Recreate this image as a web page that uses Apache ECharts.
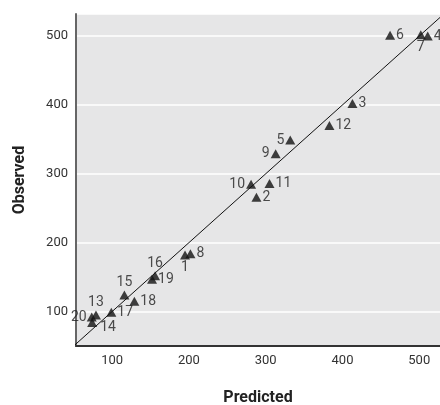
<!DOCTYPE html>
<html>
<head>
<meta charset="utf-8">
<script src="https://cdn.jsdelivr.net/npm/echarts@6/dist/echarts.min.js"></script>
<style>
html,body{margin:0;padding:0;background:#fff;}
#c{width:440px;height:405px;}
</style>
</head>
<body>
<div id="c"></div>
<script>
// Data
const siteIds   = ['1','2','3','4','5','6','7','8','9','10','11','12','13','14','15','16','17','18','19','20'];
const predicted = [195, 288, 413, 511, 332, 462, 502, 202, 313, 281, 305, 383, 79, 74, 116, 156, 99, 129, 152, 73.5];
const observed  = [182, 266, 402, 500, 349, 501, 502, 184, 329, 285, 286, 370, 95, 84, 124, 152, 99, 115, 147, 92];
const xTicks = [100, 200, 300, 400, 500];
const yTicks = [100, 200, 300, 400, 500];
const identityEnds = [0, 600];

// label placement (style)
const labelPlace = {
  '1': {position: 'bottom', distance: 1},
  '7': {position: 'bottom', distance: 1},
  '13': {position: 'top', distance: 1},
  '15': {position: 'top', distance: 1},
  '16': {position: 'top', distance: 1},
  '5': {position: 'left', distance: 1},
  '9': {position: 'left', distance: 1},
  '10': {position: 'left', distance: 1},
  '20': {position: 'left', distance: 0},
  '14': {position: 'right', distance: 3, offset: [0, 5]}
};

const FONT = 'Roboto, "Liberation Sans Narrow", sans-serif';

const pts = siteIds.map((id, i) => {
  const p = labelPlace[id] || {position: 'right', distance: 1};
  return {
    value: [predicted[i], observed[i]],
    name: id,
    label: Object.assign({show: true, formatter: id}, p)
  };
});

const chart = echarts.init(document.getElementById('c'), null, {renderer: 'canvas'});
chart.setOption({
  animation: false,
  backgroundColor: '#ffffff',
  grid: {left: 76, top: 14, right: 0, bottom: 59, show: true, backgroundColor: '#e6e6e7', borderWidth: 0, containLabel: false, outerBoundsMode: 'none'},
  xAxis: {
    type: 'value', min: 53, max: 527,
    name: 'Predicted', nameLocation: 'middle', nameGap: 44,
    nameTextStyle: {fontFamily: FONT, fontWeight: 'bold', fontSize: 16, color: '#222'},
    axisLine: {show: true, onZero: false, lineStyle: {color: '#333', width: 2}},
    axisTick: {show: false},
    splitLine: {show: false},
    axisLabel: {customValues: xTicks, margin: 8, fontFamily: FONT, fontSize: 13, color: '#333'}
  },
  yAxis: {
    type: 'value', min: 50, max: 532,
    name: 'Observed', nameLocation: 'middle', nameGap: 48,
    nameTextStyle: {fontFamily: FONT, fontWeight: 'bold', fontSize: 16, color: '#222'},
    axisLine: {show: true, onZero: false, lineStyle: {color: '#666', width: 2}},
    axisTick: {show: false},
    splitLine: {show: true, lineStyle: {color: '#ffffff', width: 1.5}},
    axisLabel: {customValues: yTicks, margin: 8, fontFamily: FONT, fontSize: 13, color: '#333'}
  },
  series: [
    {
      type: 'line',
      data: [[identityEnds[0], identityEnds[0]], [identityEnds[1], identityEnds[1]]],
      symbol: 'none', clip: true, silent: true,
      lineStyle: {color: '#111', width: 1}
    },
    {
      type: 'scatter',
      data: pts,
      symbol: 'triangle', symbolSize: [10, 9],
      itemStyle: {color: '#111'},
      label: {fontFamily: FONT, fontSize: 14, color: '#222'}
    }
  ]
});
</script>
</body>
</html>
